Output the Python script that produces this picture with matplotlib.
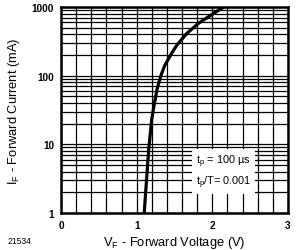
import matplotlib
matplotlib.use("Agg")
import matplotlib.pyplot as plt
import numpy as np
from matplotlib.ticker import FixedLocator, NullFormatter

plt.rcParams['font.family'] = ['Liberation Sans', 'DejaVu Sans']

# Curve data
current_mA = [1, 3, 8.6, 23.6, 37, 64, 100, 140, 219, 277, 409, 571, 773, 1000]
voltage_V = [1.10, 1.13, 1.16, 1.20, 1.23, 1.27, 1.32, 1.37, 1.47, 1.53, 1.66, 1.81, 1.99, 2.15]

x_ticks = [0, 1, 2, 3]
x_ticklabels = ["0", "1", "2", "3"]
y_ticks = [1, 10, 100, 1000]
y_ticklabels = ["1", "10", "100", "1000"]

fig = plt.figure(figsize=(2.96, 2.51), dpi=100)
ax = fig.add_axes([61/296, 1 - 214/251, (288-61)/296, (214-8)/251])

ax.set_xlim(0, 3)
ax.set_yscale('log')
ax.set_ylim(1, 1000)

ax.xaxis.set_major_locator(FixedLocator(x_ticks))
ax.xaxis.set_minor_locator(FixedLocator(np.arange(0, 3.01, 0.2)))
ax.set_xticklabels(x_ticklabels)
ax.yaxis.set_major_locator(FixedLocator(y_ticks))
minor_y = [m * 10**d for d in range(3) for m in range(2, 10)]
ax.yaxis.set_minor_locator(FixedLocator(minor_y))
ax.yaxis.set_minor_formatter(NullFormatter())
ax.set_yticklabels(y_ticklabels)

ax.grid(True, which='both', color='black', linewidth=0.9)
ax.tick_params(which='both', length=0, labelsize=7.2, pad=5)
for lab in ax.get_xticklabels() + ax.get_yticklabels():
    lab.set_fontweight('bold')
for s in ax.spines.values():
    s.set_linewidth(1.8)

ax.plot(voltage_V, current_mA, color='black', linewidth=2.3, solid_capstyle='butt',
        solid_joinstyle='round', zorder=5)

ax.text(2.15, 4.0, "t$_\\mathregular{p}$ = 100 µs\nt$_\\mathregular{p}$/T= 0.001", ha='center', va='center',
        fontsize=7.8, linespacing=1.45, zorder=6,
        bbox=dict(facecolor='white', edgecolor='none', pad=2.5))

ax.set_xlabel("V$_\\mathregular{F}$ - Forward Voltage (V)", fontsize=9.3, labelpad=3)
ax.set_ylabel("I$_\\mathregular{F}$ - Forward Current (mA)", fontsize=9.3, labelpad=7)

fig.text(8/296, 1 - 242/251, "21534", fontsize=6.2, ha='left', va='center')

fig.savefig("out.png", dpi=100)
